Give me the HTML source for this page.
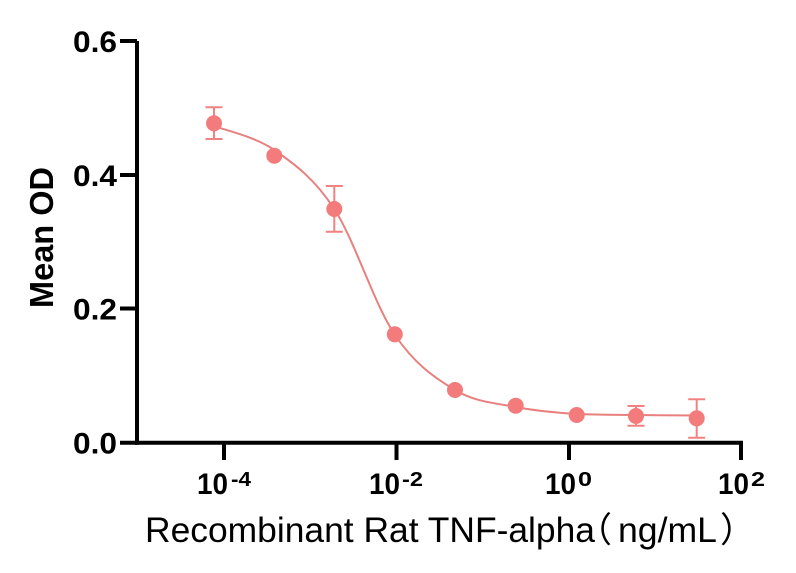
<!DOCTYPE html>
<html>
<head>
<meta charset="utf-8">
<style>
html,body{margin:0;padding:0;background:#fff;}
svg{display:block;}
text{font-family:"Liberation Sans","Noto Sans CJK SC",sans-serif;fill:#000;}
</style>
</head>
<body>
<svg width="796" height="573" viewBox="0 0 796 573" xmlns="http://www.w3.org/2000/svg">
<rect width="796" height="573" fill="#fff"/>

<!-- Axes -->
<g stroke="#000" stroke-width="4" fill="none">
  <line x1="137" y1="41" x2="137" y2="444.7"/>
  <line x1="135" y1="442.7" x2="743" y2="442.7"/>
  <line x1="120" y1="41" x2="137" y2="41"/>
  <line x1="120" y1="175" x2="137" y2="175"/>
  <line x1="120" y1="308.5" x2="137" y2="308.5"/>
  <line x1="120" y1="442.7" x2="137" y2="442.7"/>
  <line x1="224" y1="442.7" x2="224" y2="460"/>
  <line x1="396.5" y1="442.7" x2="396.5" y2="460"/>
  <line x1="569" y1="442.7" x2="569" y2="460"/>
  <line x1="741" y1="442.7" x2="741" y2="460"/>
</g>

<!-- Y tick labels -->
<g font-size="30" font-weight="bold" text-anchor="end">
  <text x="117" y="52" textLength="44" lengthAdjust="spacingAndGlyphs">0.6</text>
  <text x="117" y="186" textLength="44" lengthAdjust="spacingAndGlyphs">0.4</text>
  <text x="117" y="319.5" textLength="44" lengthAdjust="spacingAndGlyphs">0.2</text>
  <text x="117" y="453.5" textLength="44" lengthAdjust="spacingAndGlyphs">0.0</text>
</g>

<!-- X tick labels -->
<g font-weight="bold">
  <text x="197" y="494" font-size="30" textLength="31" lengthAdjust="spacingAndGlyphs">10</text>
  <text x="231" y="486" font-size="20" textLength="20" lengthAdjust="spacingAndGlyphs">-4</text>
  <text x="369" y="494" font-size="30" textLength="31" lengthAdjust="spacingAndGlyphs">10</text>
  <text x="402" y="486" font-size="20" textLength="21" lengthAdjust="spacingAndGlyphs">-2</text>
  <text x="545" y="494" font-size="30" textLength="31" lengthAdjust="spacingAndGlyphs">10</text>
  <text x="578" y="486" font-size="20" textLength="14" lengthAdjust="spacingAndGlyphs">0</text>
  <text x="718" y="494" font-size="30" textLength="31" lengthAdjust="spacingAndGlyphs">10</text>
  <text x="751" y="486" font-size="20" textLength="14" lengthAdjust="spacingAndGlyphs">2</text>
</g>

<!-- Axis titles -->
<text transform="translate(53,237.5) rotate(-90)" font-size="33" font-weight="bold" text-anchor="middle" textLength="141" lengthAdjust="spacingAndGlyphs">Mean OD</text>

<text x="145" y="542" font-size="35" textLength="450" lengthAdjust="spacingAndGlyphs">Recombinant Rat TNF-alpha</text>
<text x="612" y="542" font-size="35" text-anchor="end" style="font-family:'Noto Sans CJK SC',sans-serif">（</text>
<text x="618" y="542" font-size="35" textLength="99" lengthAdjust="spacingAndGlyphs">ng/mL</text>
<text x="720" y="542" font-size="35" style="font-family:'Noto Sans CJK SC',sans-serif">）</text>

<!-- Fit curve -->
<path fill="none" stroke="#E8807E" stroke-width="2"
 d="M214,126 C224.05,130 254.25,136.17 274.3,150
    C294.35,163.83 314.3,178.33 334.3,209
    C354.3,239.67 374.18,303.83 394.3,334
    C414.42,364.17 434.77,377.83 455,390
    C475.23,402.17 495.42,403 515.7,407
    C535.98,411 556.65,412.67 576.7,414
    C596.75,414.8 616,414.75 636,415
    C656,415.25 686.6,415.4 696.7,415.5"/>

<!-- Error bars -->
<g stroke="#F08282" stroke-width="2" fill="none">
  <line x1="214" y1="107.3" x2="214" y2="139"/>
  <line x1="205.5" y1="107.3" x2="222.5" y2="107.3"/>
  <line x1="205.5" y1="139" x2="222.5" y2="139"/>

  <line x1="334.3" y1="186" x2="334.3" y2="231.7"/>
  <line x1="325.8" y1="186" x2="342.8" y2="186"/>
  <line x1="325.8" y1="231.7" x2="342.8" y2="231.7"/>

  <line x1="636" y1="406" x2="636" y2="425.7"/>
  <line x1="627.5" y1="406" x2="644.5" y2="406"/>
  <line x1="627.5" y1="425.7" x2="644.5" y2="425.7"/>

  <line x1="696.7" y1="399.3" x2="696.7" y2="437.7"/>
  <line x1="688.2" y1="399.3" x2="705.2" y2="399.3"/>
  <line x1="688.2" y1="437.7" x2="705.2" y2="437.7"/>
</g>

<!-- Markers -->
<g fill="#F37B7B">
  <circle cx="214" cy="123.3" r="8"/>
  <circle cx="274.3" cy="155.7" r="8"/>
  <circle cx="334.3" cy="209" r="8"/>
  <circle cx="394.8" cy="334.3" r="8"/>
  <circle cx="455" cy="390" r="8"/>
  <circle cx="515.7" cy="405.7" r="8"/>
  <circle cx="576.7" cy="415" r="8"/>
  <circle cx="636" cy="416" r="8"/>
  <circle cx="696.7" cy="418.3" r="8"/>
</g>
</svg>
</body>
</html>
